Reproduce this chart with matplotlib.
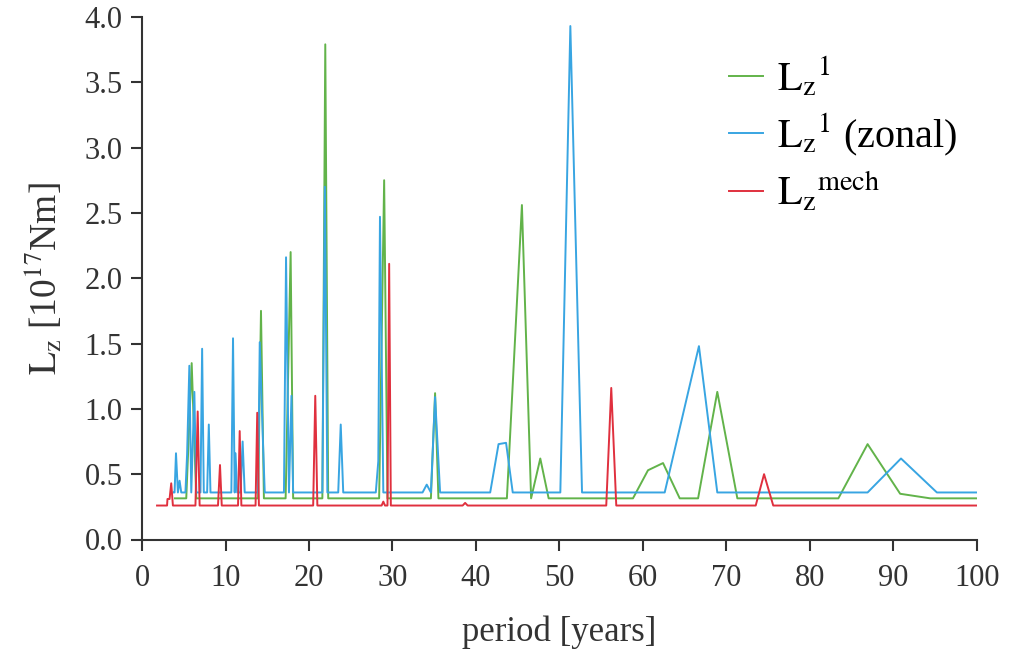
import matplotlib.pyplot as plt

plt.rcParams['font.family'] = ['Liberation Serif', 'DejaVu Serif']
plt.rcParams['mathtext.fontset'] = 'stix'

# L_z^1 (green)
green_x = [3.95, 5.3, 5.95, 6.5, 13.9, 14.25, 14.6, 17.2, 17.8, 18.1, 21.6, 21.95, 22.3,
           28.4, 29.0, 29.4, 34.6, 35.1, 35.5, 43.7, 45.5, 46.6, 47.7, 48.7,
           58.8, 60.6, 62.4, 64.4, 66.6, 68.9, 71.3, 83.4, 86.9, 90.8, 94.4, 100]
green_y = [0.315, 0.315, 1.35, 0.315, 0.315, 1.75, 0.315, 0.315, 2.2, 0.315, 0.315, 3.79, 0.315,
           0.315, 2.75, 0.315, 0.315, 1.12, 0.315, 0.315, 2.56, 0.315, 0.62, 0.315,
           0.315, 0.53, 0.585, 0.315, 0.315, 1.13, 0.315, 0.315, 0.73, 0.35, 0.315, 0.315]

# L_z^1 (zonal) (blue)
blue_x = [3.8, 3.9, 4.07, 4.3, 4.5, 4.7, 5.2, 5.4, 5.67, 5.9, 6.27, 6.5, 7.0, 7.2, 7.4,
          7.8, 8.0, 8.2, 10.7, 10.9, 11.1, 11.2, 11.4, 11.8, 12.05, 12.3,
          13.9, 14.1, 14.5, 14.7, 17.0, 17.25, 17.6, 17.9, 18.1,
          21.6, 21.9, 22.2, 23.5, 23.8, 24.1, 28.0, 28.3, 28.5, 28.9,
          33.6, 34.1, 34.6, 35.1, 35.7, 41.7, 42.7, 43.6, 44.4, 50.1, 51.3, 52.7,
          62.6, 66.7, 68.9, 86.9, 90.9, 95.2, 100]
blue_y = [0.36, 0.36, 0.66, 0.36, 0.45, 0.36, 0.36, 0.65, 1.33, 0.36, 1.13, 0.36, 0.36, 1.46, 0.36,
          0.36, 0.88, 0.36, 0.36, 1.54, 0.36, 0.66, 0.36, 0.36, 0.75, 0.36,
          0.36, 1.51, 0.72, 0.36, 0.36, 2.16, 0.36, 1.1, 0.36,
          0.36, 2.7, 0.36, 0.36, 0.88, 0.36, 0.36, 0.6, 2.47, 0.36,
          0.36, 0.42, 0.36, 1.09, 0.36, 0.36, 0.73, 0.74, 0.36, 0.36, 3.93, 0.36,
          0.36, 1.48, 0.36, 0.36, 0.62, 0.36, 0.36]

# L_z^mech (red)
red_x = [1.8, 3.0, 3.05, 3.3, 3.5, 3.7, 6.4, 6.67, 6.9, 9.1, 9.34, 9.55, 11.5, 11.7, 11.9,
         13.6, 13.8, 14.0, 20.5, 20.75, 21.0, 28.7, 28.9, 29.1, 29.4, 29.6, 29.8,
         38.4, 38.7, 39.0, 55.6, 56.2, 56.8, 73.5, 74.5, 75.6, 100]
red_y = [0.26, 0.26, 0.31, 0.31, 0.43, 0.26, 0.26, 0.98, 0.26, 0.26, 0.57, 0.26, 0.26, 0.83, 0.26,
         0.26, 0.97, 0.26, 0.26, 1.1, 0.26, 0.26, 0.29, 0.26, 0.26, 2.11, 0.26,
         0.26, 0.28, 0.26, 0.26, 1.16, 0.26, 0.26, 0.5, 0.26, 0.26]

fig = plt.figure(figsize=(10.1, 6.5), dpi=100)
ax = fig.add_axes([0.1406, 0.170, 0.8267, 0.804])

ax.plot(green_x, green_y, color='#62b34a', lw=1.4, label=r'$\mathrm{L_z}^1$')
ax.plot(blue_x, blue_y, color='#38a5e2', lw=1.4, label=r'$\mathrm{L_z}^1$ (zonal)')
ax.plot(red_x, red_y, color='#e0303e', lw=1.4, label=r'$\mathrm{L_z}^{\mathrm{mech}}$')

ax.set_xlim(0, 100)
ax.set_ylim(0, 4.0)
ax.set_xticks(range(0, 101, 10))
ax.set_yticks([0, 0.5, 1.0, 1.5, 2.0, 2.5, 3.0, 3.5, 4.0])
ax.set_yticklabels(['0.0', '0.5', '1.0', '1.5', '2.0', '2.5', '3.0', '3.5', '4.0'])

for s in ['top', 'right']:
    ax.spines[s].set_visible(False)
for s in ['left', 'bottom']:
    ax.spines[s].set_linewidth(1.5)
    ax.spines[s].set_color('#333333')
ax.tick_params(direction='out', length=8, width=1.5, color='#333333',
               labelsize=22, labelcolor='#333333')
ax.tick_params(axis='x', pad=10)
ax.tick_params(axis='y', pad=6)

ax.set_xlabel('period [years]', fontsize=25, color='#333333', labelpad=16)
ax.set_ylabel(r'$\mathrm{L_z}$ [10$^{17}$Nm]', fontsize=27, color='#333333', labelpad=14)

ax.legend(loc='upper right', bbox_to_anchor=(1.02, 0.995), frameon=False, fontsize=29,
          handlelength=0.85, handletextpad=0.35, labelspacing=0.3)

fig.savefig('out.png')
